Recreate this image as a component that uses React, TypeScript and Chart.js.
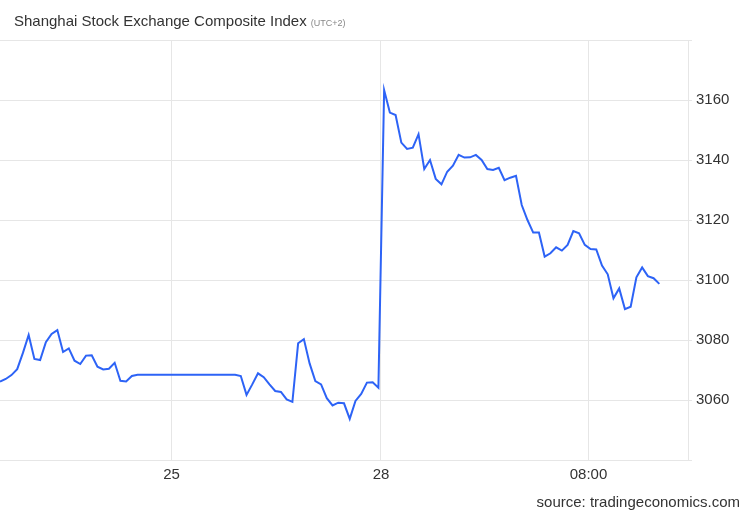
import React, { useEffect, useRef } from "react";
import { Chart, registerables } from "chart.js";

Chart.register(...registerables);

const titleText = "Shanghai Stock Exchange Composite Index";
const titleNote = "(UTC+2)";
const sourceText = "source: tradingeconomics.com";

// Index values, sampled at regular intervals (one value per step)
const session24 = [
  3066.1, 3067.0, 3068.3, 3070.3, 3075.7, 3081.7, 3073.7, 3073.3, 3079.3, 3082.0,
  3083.3, 3076.0, 3077.2, 3073.1, 3072.0, 3074.8, 3074.9, 3071.1, 3070.2, 3070.4,
  3072.4, 3066.4, 3066.2, 3068.0, 3068.4,
];
const overnightFlat = [
  3068.4, 3068.4, 3068.4, 3068.4, 3068.4, 3068.4, 3068.4, 3068.4, 3068.4,
  3068.4, 3068.4, 3068.4, 3068.4, 3068.4, 3068.4, 3068.4, 3068.4, 3068.0,
];
const session25 = [
  3061.7, 3065.2, 3068.9, 3067.6, 3065.2, 3063.0, 3062.7, 3060.2, 3059.4, 3078.9,
  3080.3, 3072.2, 3066.3, 3065.2, 3060.6, 3058.2, 3059.1, 3058.9, 3053.7, 3059.7,
  3062.0, 3065.8, 3065.9, 3064.1,
];
const session28 = [
  3163.3, 3155.8, 3155.0, 3145.8, 3143.7, 3144.1, 3148.6, 3137.0, 3140.0, 3133.7,
  3131.9, 3136.1, 3138.1, 3141.7, 3140.8, 3140.9, 3141.7, 3140.0, 3137.0, 3136.7,
  3137.4, 3133.3, 3134.1, 3134.7, 3125.0, 3120.0, 3115.8, 3115.8, 3107.8, 3108.9,
  3110.9, 3109.8, 3111.7, 3116.3, 3115.6, 3111.7, 3110.3, 3110.2, 3104.8, 3101.9,
  3093.9, 3097.2, 3090.3, 3091.1, 3100.9, 3104.2, 3101.3, 3100.6, 3098.7,
];

const seriesValues = [...session24, ...overnightFlat, ...session25, ...session28];

// x-axis tick labels and their positions (in sample steps)
const xTickLabels = ["25", "28", "08:00"];
const xTickPositions = [29.91, 66.45, 102.65];
const xMax = 120;

const yMin = 3040;
const yMax = 3180;
const yStep = 20;

const FONT = "'Liberation Sans', Arial, Helvetica, sans-serif";

export default function App() {
  const canvasRef = useRef<HTMLCanvasElement | null>(null);

  useEffect(() => {
    const canvas = canvasRef.current;
    if (!canvas) return;
    const chart = new Chart(canvas, {
      type: "line",
      data: {
        datasets: [
          {
            data: seriesValues.map((v, i) => ({ x: i, y: v })),
            borderColor: "#2d63f6",
            borderWidth: 2,
            pointRadius: 0,
            tension: 0,
            fill: false,
          },
        ],
      },
      options: {
        animation: false,
        responsive: false,
        maintainAspectRatio: false,
        layout: { padding: { top: 40, left: 0, right: 0, bottom: 0 } },
        plugins: {
          legend: { display: false },
          tooltip: { enabled: false },
          title: { display: false },
        },
        scales: {
          x: {
            type: "linear",
            min: 0,
            max: xMax,
            afterBuildTicks: (scale: any) => {
              scale.ticks = xTickPositions.map((v) => ({ value: v }));
            },
            afterFit: (scale: any) => {
              scale.height = 60;
            },
            grid: {
              color: "#e6e6e6",
              drawTicks: false,
            },
            border: { display: true, color: "#e6e6e6" },
            ticks: {
              autoSkip: false,
              maxRotation: 0,
              padding: 6,
              color: "#333333",
              font: { family: FONT, size: 15 },
              callback: (value: any) => {
                const idx = xTickPositions.findIndex((p) => Math.abs(p - Number(value)) < 0.01);
                return idx >= 0 ? xTickLabels[idx] : "";
              },
            },
          },
          y: {
            type: "linear",
            position: "right",
            min: yMin,
            max: yMax,
            afterFit: (scale: any) => {
              scale.width = 62;
            },
            grid: {
              color: "#e6e6e6",
              tickLength: 4,
            },
            border: { display: true, color: "#e6e6e6" },
            ticks: {
              stepSize: yStep,
              padding: 4,
              color: "#333333",
              font: { family: FONT, size: 15 },
              callback: (value: any) =>
                value === yMin || value === yMax ? "" : String(value),
            },
          },
        },
      },
    });
    return () => chart.destroy();
  }, []);

  return (
    <div
      style={{
        position: "absolute",
        left: 0,
        top: 0,
        width: 750,
        height: 520,
        background: "#ffffff",
        fontFamily: FONT,
      }}
    >
      <canvas
        ref={canvasRef}
        width={750}
        height={520}
        style={{ position: "absolute", left: 0, top: 0, width: 750, height: 520 }}
      />
      <div
        style={{
          position: "absolute",
          left: 14,
          top: 12,
          fontSize: 15,
          lineHeight: "18px",
          color: "#333333",
          whiteSpace: "nowrap",
        }}
      >
        {titleText}
        <span style={{ fontSize: 9, color: "#888888", marginLeft: 4 }}>{titleNote}</span>
      </div>
      <div
        style={{
          position: "absolute",
          right: 10,
          top: 493,
          fontSize: 15,
          lineHeight: "18px",
          color: "#333333",
          whiteSpace: "nowrap",
        }}
      >
        {sourceText}
      </div>
    </div>
  );
}
